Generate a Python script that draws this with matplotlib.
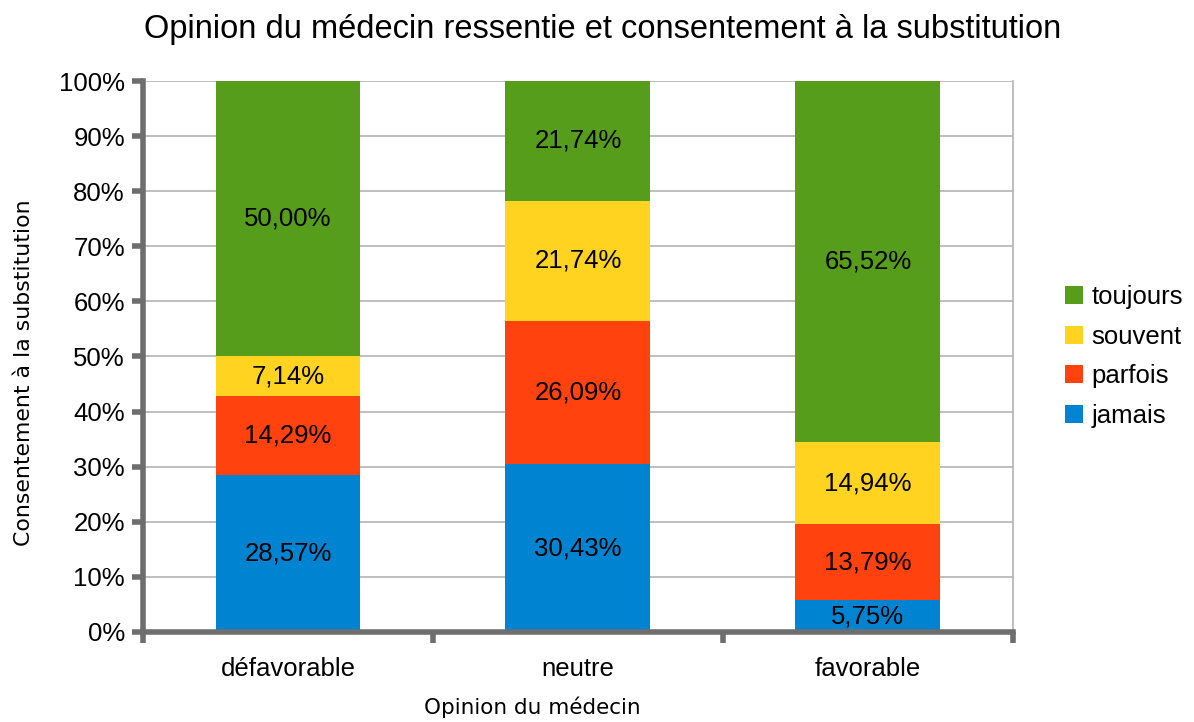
import numpy as np
import matplotlib.pyplot as plt
from matplotlib.ticker import FuncFormatter, FixedLocator

categories = ['défavorable', 'neutre', 'favorable']
series = ['jamais', 'parfois', 'souvent', 'toujours']
jamais = [28.57, 30.43, 5.75]
parfois = [14.29, 26.09, 13.79]
souvent = [7.14, 21.74, 14.94]
toujours = [50.00, 21.74, 65.52]
colors = ['#0084d1', '#ff420e', '#ffd320', '#579d1c']

plt.rcParams['font.family'] = ['Liberation Sans', 'DejaVu Sans']

fig = plt.figure(figsize=(11.94, 7.22), dpi=100)
ax = fig.add_axes([0.1198, 0.1247, 0.7285, 0.7631])

x = np.arange(len(categories))
bottom = np.zeros(len(categories))
handles = []
for name, vals, col in zip(series, [jamais, parfois, souvent, toujours], colors):
    vals = np.array(vals)
    b = ax.bar(x, vals, 0.5, bottom=bottom, color=col, label=name, zorder=3)
    handles.append(b)
    for xi, v, b0 in zip(x, vals, bottom):
        ax.text(xi, b0 + v / 2, '{:.2f}%'.format(v).replace('.', ','),
                ha='center', va='center', fontsize=18.5, color='black', zorder=4)
    bottom += vals

ax.set_xlim(-0.5, 2.5)
ax.set_ylim(0, 100)
ax.yaxis.set_major_locator(FixedLocator(np.arange(0, 101, 10)))
ax.yaxis.set_major_formatter(FuncFormatter(lambda v, p: '{:d}%'.format(int(v))))
ax.grid(axis='y', color='#b3b3b3', linewidth=1.2, zorder=0)

# category boundaries carry the bottom ticks, labels sit in between
ax.xaxis.set_major_locator(FixedLocator([-0.5, 0.5, 1.5, 2.5]))
ax.xaxis.set_major_formatter(FuncFormatter(lambda v, p: ''))
ax.xaxis.set_minor_locator(FixedLocator(x))
ax.set_xticklabels(categories, minor=True)
ax.tick_params(axis='x', which='minor', length=0, labelsize=18.5, pad=18)
ax.tick_params(axis='x', which='major', length=8, width=4, color='#6e6e6e', direction='out')
ax.tick_params(axis='y', length=8, width=4, color='#6e6e6e', labelsize=18.5, pad=5)

for s in ['left', 'bottom']:
    ax.spines[s].set_color('#6e6e6e')
    ax.spines[s].set_linewidth(4)
    ax.spines[s].set_zorder(5)
ax.spines['top'].set_visible(False)
ax.spines['right'].set_color('#b3b3b3')
ax.spines['right'].set_linewidth(1.2)

ax.set_xlabel('Opinion du médecin', fontsize=15.5, family='DejaVu Sans')
ax.xaxis.set_label_coords(0.448, -0.117)
ax.set_ylabel('Consentement à la substitution', fontsize=15.8, family='DejaVu Sans')
ax.yaxis.set_label_coords(-0.125, 0.47)
fig.suptitle('Opinion du médecin ressentie et consentement à la substitution',
             fontsize=23.5, x=0.505, y=0.98)

ax.legend(handles[::-1], series[::-1], loc='center left', bbox_to_anchor=(1.033, 0.5),
          frameon=False, fontsize=18.5, handlelength=0.7, handleheight=0.7,
          handletextpad=0.35, labelspacing=0.62)

fig.savefig('out.png', dpi=100)
